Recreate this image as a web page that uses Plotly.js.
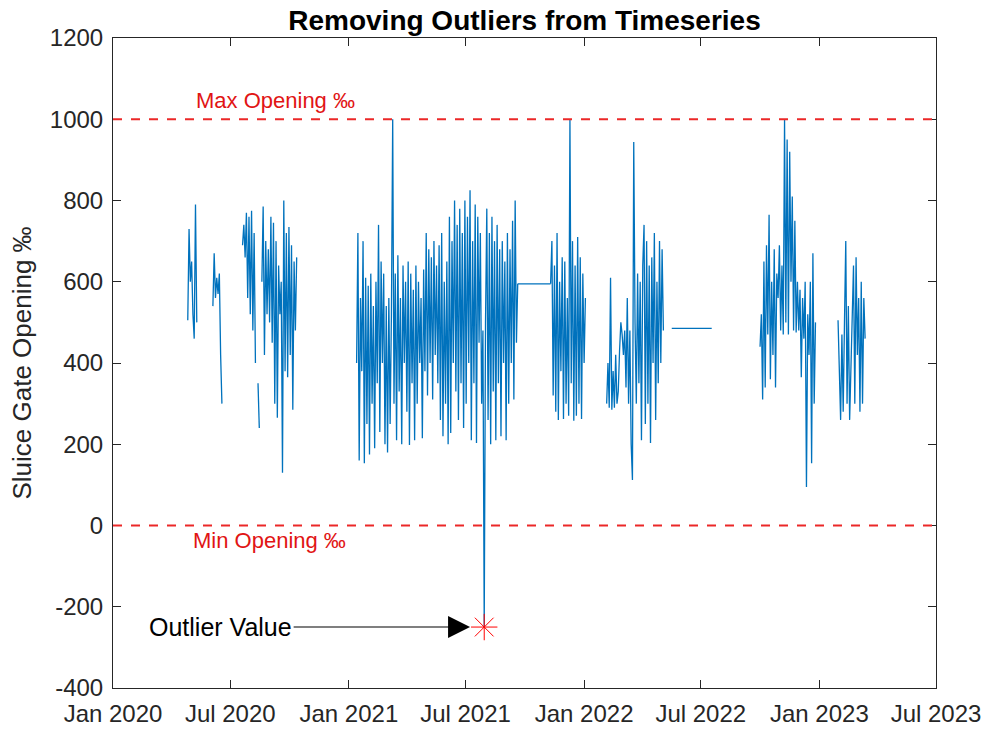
<!DOCTYPE html>
<html><head><meta charset="utf-8">
<script src="https://cdn.plot.ly/plotly-3.0.1.min.js"></script>
<style>html,body{margin:0;padding:0;background:#fff}#chart{width:989px;height:731px}</style>
</head><body><div id="chart"></div>
<script>
// ---- data ----
// each segment: start date, sampling step in days, values (null = gap)
const seg1Start = "2020-04-26", seg1Step = 2;
const seg1Values = [505, 730, 600, 650, 520, 460, 790, 500];

const seg2Start = "2020-06-04", seg2Step = 2;
const seg2Values = [540, 670, 560, 610, 570, 620, 420, 300];

const seg3Start = "2020-07-20", seg3Step = 2;
const seg3Values = [690,740,660,770,560,760,520,775,480,720,400,null,350,240,null,600,785,420,700,520,680,500,760,450,745,300,700,265,640,520,600,130,800,380,720,365,735,420,690,285,650,480,660];

const seg4Start = "2021-01-13", seg4Step = 2;
const seg4Values = [
  400,720,160,560,380,700,153,610,250,590,
  175,620,300,540,190,600,350,740,230,650,
  400,620,200,540,180,560,250,520,1000,300,
  620,210,665,330,560,200,640,400,600,280,
  650,198,620,350,580,210,640,300,600,400,
  560,215,630,380,720,320,680,400,660,310,
  700,420,640,350,690,260,720,220,600,300,
  650,200,760,228,700,400,800,330,740,260,
  780,350,720,240,800,300,760,400,825,210,
  700,350,790,203,760,450,720,300,480,-250,
  500,780,260,720,200,760,330,700,210,740,
  350,680,220,700,400,650,210,720,300,680,
  400,750,310,800,450,595];

const flat1Dates = ["2021-09-20", "2021-11-10"];
const flat1Values = [595, 595];

const seg5Start = "2021-11-10", seg5Step = 2;
const seg5Values = [595,700,320,640,280,720,260,600,380,660,262,650,300,560,270,1000,350,700,258,640,270,710,300,660,262,620,400,560];

const seg6Start = "2022-02-05", seg6Step = 2;
const seg6Values = [
  300,400,290,610,285,380,290,420,300,330,
  430,500,470,420,480,340,560,300,480,200,
  112,944,500,300,620,350,600,210,640,740,
  250,700,300,640,203,660,400,720,260,600,
  350,700,400,680,480];

const flat2Dates = ["2022-05-17", "2022-07-18"];
const flat2Values = [485, 485];

const seg7Start = "2022-10-01", seg7Step = 2;
const seg7Values = [
  440,520,310,650,340,690,470,765,360,600,
  420,680,340,620,560,690,480,640,470,1000,
  500,950,470,920,600,810,480,750,475,600,
  480,580,365,560,460,600,95,520,420,600,
  153,670,300,500];

const seg8Start = "2023-01-30", seg8Step = 2;
const seg8Values = [505,400,260,470,280,500,700,300,540,260,380,480,640,300,660,420,560,280,600,300,560,460];

const outlierDate = "2021-07-30";
const outlierValue = -250;
const maxOpening = 1000;
const minOpening = 0;

const xTickVals = ["2020-01-01","2020-07-01","2021-01-01","2021-07-01","2022-01-01","2022-07-01","2023-01-01","2023-07-01"];
const xTickText = ["Jan 2020","Jul 2020","Jan 2021","Jul 2021","Jan 2022","Jul 2022","Jan 2023","Jul 2023"];
const yTickVals = [-400,-200,0,200,400,600,800,1000,1200];
const yTickText = ["-400","-200","0","200","400","600","800","1000","1200"];

// ---- build ----
function dates(start, step, n) {
  const t0 = Date.parse(start + "T00:00:00Z");
  const out = [];
  for (let i = 0; i < n; i++) out.push(new Date(t0 + i * step * 86400000).toISOString().slice(0, 16).replace("T", " "));
  return out;
}
const blue = "#0072BD";
function segTrace(x, y) {
  return {x: x, y: y, type: "scatter", mode: "lines", line: {color: blue, width: 1.3}, connectgaps: false, hoverinfo: "skip", showlegend: false};
}
const segs = [
  [seg1Start, seg1Step, seg1Values], [seg2Start, seg2Step, seg2Values], [seg3Start, seg3Step, seg3Values],
  [seg4Start, seg4Step, seg4Values], [seg5Start, seg5Step, seg5Values], [seg6Start, seg6Step, seg6Values],
  [seg7Start, seg7Step, seg7Values], [seg8Start, seg8Step, seg8Values]
];
const traces = segs.map(s => segTrace(dates(s[0], s[1], s[2].length), s[2]));
traces.push(segTrace(flat1Dates, flat1Values));
traces.push(segTrace(flat2Dates, flat2Values));
traces.push({x: [outlierDate], y: [outlierValue], type: "scatter", mode: "markers",
  marker: {symbol: "asterisk-open", size: 22, color: "red", line: {color: "red", width: 1}}, showlegend: false});

const red = "rgb(235,40,40)";
const font = "Liberation Sans, Arial, sans-serif";
const axCol = "#262626";
const layout = {
  width: 989, height: 731,
  margin: {l: 113, r: 53, t: 38, b: 43},
  paper_bgcolor: "#fff", plot_bgcolor: "#fff",
  font: {family: font, color: axCol, size: 22},
  title: {text: "<b>Removing Outliers from Timeseries</b>", font: {family: font, size: 28, color: "#000"}, xref: "paper", x: 0.5, xanchor: "center", y: 0.972, yanchor: "middle"},
  xaxis: {type: "date", range: ["2020-01-01", "2023-07-01"], tickvals: xTickVals, ticktext: xTickText,
    ticks: "inside", ticklen: 8, tickcolor: axCol, showline: true, linecolor: axCol, linewidth: 1, mirror: "ticks",
    showgrid: false, zeroline: false, tickfont: {size: 24, color: axCol}, ticklabelstandoff: 4},
  yaxis: {range: [-400, 1200], tickvals: yTickVals, ticktext: yTickText, ticks: "inside", ticklen: 8, tickcolor: axCol,
    showline: true, linecolor: axCol, linewidth: 1, mirror: "ticks", showgrid: false, zeroline: false,
    tickfont: {size: 24, color: axCol}, ticklabelstandoff: 4,
    title: {text: "Sluice Gate Opening ‰", font: {size: 26, color: axCol}, standoff: 10}},
  shapes: [
    {type: "line", xref: "paper", x0: 0, x1: 1, yref: "y", y0: maxOpening, y1: maxOpening, line: {color: red, width: 2, dash: "dash"}},
    {type: "line", xref: "paper", x0: 0, x1: 1, yref: "y", y0: minOpening, y1: minOpening, line: {color: red, width: 2, dash: "dash"}}
  ],
  annotations: [
    {x: "2020-09-09", y: 1047, text: "Max Opening ‰", showarrow: false, font: {size: 22, color: "rgb(225,20,20)"}},
    {x: "2020-08-31", y: -36, text: "Min Opening ‰", showarrow: false, font: {size: 22, color: "rgb(225,20,20)"}},
    {x: "2021-07-08", y: -250, xref: "x", yref: "y", axref: "x", ayref: "y", ax: "2020-06-16", ay: -250,
      text: "Outlier Value", showarrow: true, arrowhead: 2, arrowsize: 4, arrowwidth: 1.1, arrowcolor: "#000",
      font: {size: 25, color: "#000"}}
  ]
};
Plotly.newPlot("chart", traces, layout, {staticPlot: true, displayModeBar: false});
</script>
</body></html>
